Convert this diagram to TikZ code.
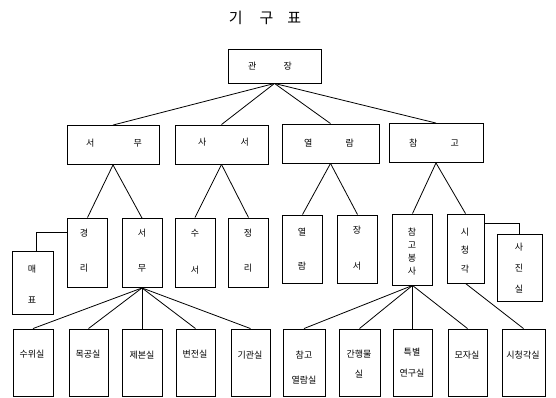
\documentclass[tikz,border=0pt]{standalone}
\usepackage{fontspec}
\setmainfont{Noto Sans CJK KR}
\begin{document}
\begin{tikzpicture}[x=1pt,y=-1pt,
  orgbox/.style={draw,line width=0.9pt,inner sep=0pt},
  wide/.style={orgbox,minimum height=39pt},
  tall/.style={orgbox,minimum width=40pt,minimum height=69pt},
  low/.style={orgbox,minimum height=67pt},
  tx/.style={inner sep=0pt,font=\fontsize{9}{11}\selectfont},
  conn/.style={line width=0.8pt}]
\useasboundingbox (0,0) rectangle (556,398);
% title
\node[inner sep=0pt,font=\fontsize{15}{18}\selectfont] (title) at (265,18) {기\hspace{17pt}구\hspace{14pt}표};
% level 1
\node[orgbox,minimum width=93pt,minimum height=34pt] (gj) at (274.5,66) {};
\node[tx] (gjt) at (270,66) {관\hspace{27pt}장};
% level 2
\node[wide,minimum width=92pt] (sm2) at (113,145) {};
\node[tx] (sm2t) at (114,143) {서\hspace{39pt}무};
\node[wide,minimum width=93pt] (ss2) at (221.5,144.5) {};
\node[tx] (ss2t) at (223.5,142) {사\hspace{34pt}서};
\node[wide,minimum width=97pt] (yr2) at (330.5,143.5) {};
\node[tx] (yr2t) at (329,143) {열\hspace{33pt}람};
\node[wide,minimum width=94pt] (cg2) at (436,143) {};
\node[tx] (cg2t) at (434,143) {참\hspace{33pt}고};
% level 3
\node[tall] (gr) at (87.5,252.5) {};
\node[tx,align=center] (grt) at (84,250.5) {경\\[24pt]리};
\node[tall] (sm3) at (142,253) {};
\node[tx,align=center] (sm3t) at (142,250.5) {서\\[24pt]무};
\node[tall] (sus) at (195,252.5) {};
\node[tx,align=center] (sust) at (195,251.5) {수\\[26pt]서};
\node[tall] (jr) at (248.5,252.5) {};
\node[tx,align=center] (jrt) at (248,250.5) {정\\[24pt]리};
\node[orgbox,minimum width=41pt,minimum height=63pt] (mp) at (32.5,282.5) {};
\node[tx,align=center] (mpt) at (32,284.5) {매\\[20pt]표};
\node[tall,minimum height=68pt] (yr3) at (302.5,249) {};
\node[tx,align=center] (yr3t) at (302,249) {열\\[23pt]람};
\node[tall,minimum height=68pt] (js) at (357.5,249) {};
\node[tx,align=center] (jst) at (357,248) {장\\[25pt]서};
\node[tall,minimum height=71pt] (cb) at (412.5,249.5) {};
\node[tx,align=center] (cbt) at (412,251.5) {참\\[2pt]고\\[2pt]봉\\[2pt]사};
\node[tall,minimum width=37pt] (sc) at (465.5,248.5) {};
\node[tx,align=center] (sct) at (465,251) {시\\[7pt]청\\[8pt]각};
\node[orgbox,minimum width=45pt,minimum height=67pt] (sj) at (519.5,267.5) {};
\node[tx,align=center] (sjt) at (519,268) {사\\[10pt]진\\[10pt]실};
% level 4
\node[low,minimum width=40pt] (b1) at (33,362.5) {};
\node[tx] (b1t) at (32,354) {수위실};
\node[low,minimum width=39pt] (b2) at (88.5,362.5) {};
\node[tx] (b2t) at (88,354) {목공실};
\node[low,minimum width=40pt] (b3) at (142,362.5) {};
\node[tx] (b3t) at (142,355) {제본실};
\node[low,minimum width=39pt] (b4) at (195.5,362.5) {};
\node[tx] (b4t) at (195,354) {변전실};
\node[low,minimum width=39pt] (b5) at (250.5,362.5) {};
\node[tx] (b5t) at (250,355) {기관실};
\node[low,minimum width=42pt] (b6) at (304,362.5) {};
\node[tx,align=center] (b6t) at (304,368) {참고\\[14pt]열람실};
\node[low,minimum width=41pt] (b7) at (359.5,362.5) {};
\node[tx,align=center] (b7t) at (359,364) {간행물\\[9pt]실};
\node[low,minimum width=39pt] (b8) at (412.5,362.5) {};
\node[tx,align=center] (b8t) at (412,363) {특별\\[10pt]연구실};
\node[low,minimum width=39pt] (b9) at (467.5,362.5) {};
\node[tx] (b9t) at (467,355) {모자실};
\node[low,minimum width=43pt] (b10) at (523.5,362.5) {};
\node[tx] (b10t) at (523,355) {시청각실};
% connectors
\foreach \c in {sm2,ss2,yr2,cg2} \draw[conn] (gj.south) -- (\c.north);
\foreach \c in {gr,sm3} \draw[conn] (sm2.south) -- (\c.north);
\foreach \c in {sus,jr} \draw[conn] (ss2.south) -- (\c.north);
\foreach \c in {yr3,js} \draw[conn] (yr2.south) -- (\c.north);
\foreach \c in {cb,sc} \draw[conn] (cg2.south) -- (\c.north);
\foreach \c in {b1,b2,b3,b4,b5} \draw[conn] (sm3.south) -- (\c.north);
\foreach \c in {b6,b7,b8,b9} \draw[conn] (cb.south) -- (\c.north);
\draw[conn] (sc.south) -- (b10.north);
\draw[conn] ([yshift=20pt]gr.west) -| ([xshift=3.5pt]mp.north);
\draw[conn] ([yshift=25pt]sc.east) -| (sj.north);
\end{tikzpicture}
\end{document}
